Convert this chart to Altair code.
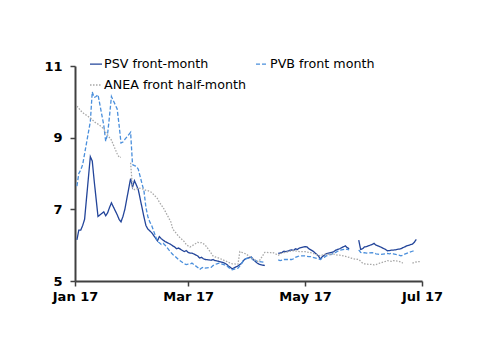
import altair as alt
import pandas as pd

# Business days Jan 2 - Jun 30, 2017 (5 per week, 26 weeks)
dates = pd.bdate_range("2017-01-02", "2017-06-30").strftime("%Y-%m-%dT00:00:00").tolist()

series_names = ["PSV front-month", "PVB front month", "ANEA front half-month"]

psv = [
    6.15, 6.42, 6.42, 6.55, 6.72,
    8.47, 8.35, 7.80, 7.30, 6.80,
    6.93, 6.82, 6.90, 7.05, 7.18,
    6.85, 6.72, 6.65, 6.80, 7.00,
    7.86, 7.62, 7.80, 7.68, 7.55,
    6.78, 6.55, 6.45, 6.40, 6.35,
    6.12, 6.24, 6.18, 6.14, 6.10,
    6.02, 5.98, 5.95, 5.90, 5.92,
    5.82, 5.85, 5.80, 5.78, 5.78,
    5.70, 5.64, 5.66, 5.62, 5.60,
    5.58, 5.60, 5.57, 5.56, 5.55,
    5.50, 5.47, 5.42, 5.38, 5.34,
    5.42, 5.46, 5.50, 5.58, 5.62,
    5.67, 5.60, 5.55, 5.50, 5.47,
    5.43, None, None, None, None,
    5.77, 5.78, 5.80, 5.83, 5.82,
    5.87, 5.85, 5.90, 5.88, 5.92,
    5.96, 5.95, 5.90, 5.87, 5.84,
    5.70, 5.61, 5.68, 5.72, 5.76,
    5.80, 5.82, 5.86, 5.88, 5.90,
    5.98, 5.93, 5.90, None, None,
    6.14, 5.88, 5.90, 5.95, 5.96,
    6.02, 6.05, 6.00, 5.98, 5.96,
    5.88, 5.84, 5.85, 5.86, 5.86,
    5.89, 5.90, 5.93, 5.95, 5.98,
    6.03, 6.08, 6.16, None, None,
]

pvb = [
    7.65, 8.00, 8.10, 8.25, 8.55,
    9.45, 10.28, 10.12, 10.15, 10.20,
    9.35, 8.90, 9.10, 9.60, 10.15,
    9.80, 9.35, 8.85, 8.88, 8.95,
    9.15, 8.25, 8.22, 8.20, 8.12,
    7.50, 7.05, 6.80, 6.65, 6.55,
    6.10, 6.07, 6.02, 6.05, 6.00,
    5.80, 5.74, 5.70, 5.65, 5.60,
    5.48, 5.46, 5.47, 5.47, 5.50,
    5.38, 5.32, 5.36, 5.39, 5.36,
    5.38, 5.43, 5.46, 5.48, 5.50,
    5.45, 5.44, 5.38, 5.34, 5.31,
    5.36, 5.42, 5.50, 5.58, 5.62,
    5.66, 5.55, 5.58, 5.55, 5.54,
    5.52, None, None, None, None,
    5.59, 5.57, 5.58, 5.60, 5.60,
    5.60, 5.62, 5.66, 5.68, 5.70,
    5.70, 5.69, 5.68, 5.68, 5.66,
    5.62, 5.60, 5.64, 5.66, 5.70,
    5.75, 5.78, 5.80, 5.83, 5.86,
    5.89, 5.88, 5.87, None, None,
    5.87, 5.80, 5.78, 5.79, 5.78,
    5.79, 5.78, 5.76, 5.75, 5.74,
    5.76, 5.77, 5.76, 5.77, 5.76,
    5.72, 5.70, 5.72, 5.75, 5.77,
    5.83, 5.85, None, None, None,
]

anea = [
    9.88, 9.82, 9.75, 9.70, 9.66,
    9.55, 9.50, 9.45, 9.40, 9.38,
    9.25, 9.15, 9.08, 9.00, 8.93,
    8.55, 8.46, 8.45, None, None,
    8.30, 7.60, 7.55, 7.56, 7.60,
    7.56, 7.53, 7.52, 7.50, 7.47,
    7.30, 7.20, 7.12, 7.05, 6.95,
    6.65, 6.45, 6.38, 6.32, 6.25,
    6.10, 6.02, 5.98, 5.95, 5.98,
    6.08, 6.06, 6.07, 6.04, 6.00,
    5.78, 5.70, 5.67, 5.66, 5.64,
    5.57, 5.55, 5.52, 5.50, 5.48,
    5.47, 5.82, 5.80, 5.78, 5.76,
    5.65, 5.60, 5.58, 5.55, 5.55,
    5.80, 5.80, 5.79, 5.79, 5.80,
    5.72, 5.75, 5.78, 5.79, 5.80,
    5.84, 5.85, 5.84, 5.83, 5.82,
    5.82, 5.81, 5.80, 5.79, 5.77,
    5.72, 5.70, 5.72, 5.74, 5.75,
    5.74, 5.75, 5.73, 5.72, 5.72,
    5.69, 5.67, 5.66, 5.64, 5.62,
    5.60, 5.55, 5.50, 5.48, 5.47,
    5.46, 5.45, 5.46, 5.48, 5.50,
    5.55, 5.57, 5.56, 5.55, 5.57,
    5.55, 5.53, 5.50, None, None,
    5.50, 5.52, 5.53, 5.54, 5.54,
]

colors = ["#23459a", "#4a8fdc", "#a8a8a8"]
dashes = [[1, 0], [4, 2], [1.5, 1.5]]
widths = [1.3, 1.3, 1.0]
y_ticks = [5, 7, 9, 11]

rows = []
for name, vals in zip(series_names, [psv, pvb, anea]):
    seg = 0
    for d, v in zip(dates, vals):
        if v is None:
            seg += 1
            continue
        rows.append({"date": d, "value": v, "series": name, "seg": f"{name}-{seg}"})
df = pd.DataFrame(rows)


def make_legend():
    return alt.Legend(
        title=None,
        orient="none",
        direction="horizontal",
        legendX=14,
        legendY=-9,
        columns=2,
        columnPadding=7,
        rowPadding=7,
        symbolType="stroke",
        symbolSize=144,
        symbolStrokeWidth=1.3,
        labelFontSize=12.7,
        labelFont="DejaVu Sans",
        labelColor="#000000",
        labelOffset=1,
        padding=0,
    )


chart = (
    alt.Chart(df)
    .mark_line()
    .encode(
        x=alt.X(
            "date:T",
            scale=alt.Scale(domain=[alt.DateTime(year=2017, month=1, date=1),
                                    alt.DateTime(year=2017, month=7, date=1)]),
            axis=alt.Axis(
                title=None,
                format="%b %y",
                values=[alt.DateTime(year=2017, month=m, date=1) for m in [1, 3, 5, 7]],
                labelFlush=False,
                labelPadding=4,
            ),
        ),
        y=alt.Y(
            "value:Q",
            scale=alt.Scale(domain=[5, 11], nice=False, zero=False),
            axis=alt.Axis(title=None, values=y_ticks, labelPadding=8),
        ),
        color=alt.Color(
            "series:N",
            sort=series_names,
            scale=alt.Scale(domain=series_names, range=colors),
            legend=make_legend(),
        ),
        strokeDash=alt.StrokeDash(
            "series:N",
            sort=series_names,
            scale=alt.Scale(domain=series_names, range=dashes),
            legend=make_legend(),
        ),
        strokeWidth=alt.StrokeWidth(
            "series:N",
            scale=alt.Scale(domain=series_names, range=widths),
            legend=None,
        ),
        detail="seg:N",
        order="date:T",
    )
    .properties(
        width=347,
        height=215,
        autosize=alt.AutoSizeParams(type="none"),
        padding={"left": 75, "top": 66, "right": 78, "bottom": 73},
        background="white",
    )
    .configure_view(stroke=None)
    .configure_axis(
        grid=False,
        labelFont="DejaVu Sans",
        labelFontSize=13,
        labelFontWeight="bold",
        labelColor="#000000",
        domainColor="#404040",
        domainWidth=2,
        tickColor="#404040",
        tickSize=5,
        tickWidth=1.5,
    )
)

chart.save("out.html", embed_options={"renderer": "svg", "actions": False})
